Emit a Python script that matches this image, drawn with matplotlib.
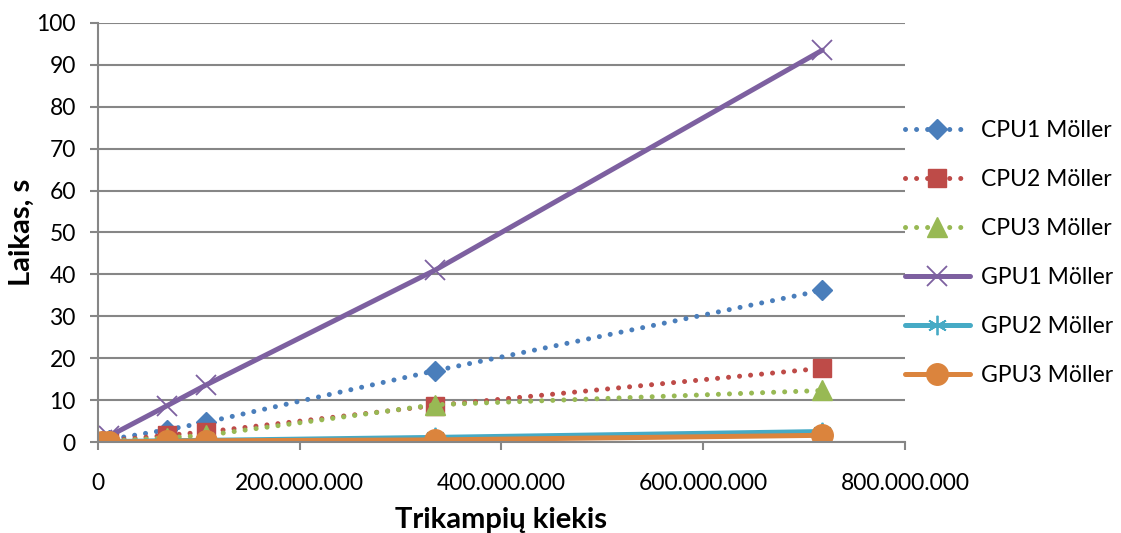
import matplotlib
matplotlib.use("Agg")
import matplotlib.pyplot as plt
from matplotlib.ticker import FuncFormatter, MultipleLocator

plt.rcParams["font.family"] = ["Lato", "DejaVu Sans"]

# triangle counts and timings (s)
triangles = [4e6, 11e6, 68e6, 107e6, 334e6, 718e6]

cpu1 = [0.2, 0.6, 2.9, 4.7, 17.0, 36.2]
cpu2 = [0.1, 0.3, 1.6, 2.4, 8.7, 17.6]
cpu3 = [0.1, 0.2, 1.0, 1.6, 8.9, 12.3]
gpu1 = [0.5, 1.4, 8.6, 13.6, 41.0, 93.5]
gpu2 = [0.0, 0.1, 0.3, 0.4, 1.1, 2.5]
gpu3 = [0.0, 0.0, 0.2, 0.3, 0.5, 1.6]

labels = ["CPU1 Möller", "CPU2 Möller", "CPU3 Möller",
          "GPU1 Möller", "GPU2 Möller", "GPU3 Möller"]

fig = plt.figure(figsize=(11.21, 5.33), dpi=100)
ax = fig.add_axes([0.0874, 0.1707, 0.7199, 0.7862])

dot = dict(linestyle=(0, (0.01, 2.2)), dash_capstyle="round", linewidth=3.6)
solid = dict(linestyle="-", linewidth=3.6, solid_capstyle="round")

ax.plot(triangles, cpu1, color="#4A7EBB", marker="D", markersize=10.5, label=labels[0], **dot)
ax.plot(triangles, cpu2, color="#BE4B48", marker="s", markersize=13, label=labels[1], **dot)
ax.plot(triangles, cpu3, color="#98B954", marker="^", markersize=15, label=labels[2], **dot)
ax.plot(triangles, gpu1, color="#7D60A0", marker="x", markersize=14, markeredgewidth=1.3,
        label=labels[3], **solid)
ax.plot(triangles, gpu2, color="#46AAC5", marker=(6, 2, 0), markersize=14, markeredgewidth=1.3,
        label=labels[4], **solid)
ax.plot(triangles, gpu3, color="#DB843D", marker="o", markersize=15.5, label=labels[5], **solid)

ax.set_xlim(0, 800e6)
ax.set_ylim(0, 100)
ax.xaxis.set_major_locator(MultipleLocator(200e6))
ax.yaxis.set_major_locator(MultipleLocator(10))
ax.xaxis.set_major_formatter(FuncFormatter(lambda v, p: f"{int(v):,}".replace(",", ".")))

ax.grid(axis="y", color="#868686", linewidth=1.5)
ax.set_axisbelow(True)
for side in ["top", "right"]:
    ax.spines[side].set_visible(False)
for side in ["left", "bottom"]:
    ax.spines[side].set_color("#868686")
    ax.spines[side].set_linewidth(1.5)
ax.tick_params(axis="both", colors="#868686", length=6, width=1.5, labelcolor="black",
               labelsize=16.5)
ax.tick_params(axis="x", pad=16)
ax.tick_params(axis="y", pad=10)

ax.set_xlabel("Trikampių kiekis", fontsize=21, fontweight="bold", labelpad=10)
ax.set_ylabel("Laikas, s", fontsize=21, fontweight="bold", labelpad=1)

ax.legend(loc="center left", bbox_to_anchor=(0.974, 0.451), frameon=False, fontsize=16.5,
          handlelength=2.85, labelspacing=1.23, handletextpad=0.5)

fig.savefig("out.png", dpi=100)
plt.close(fig)
